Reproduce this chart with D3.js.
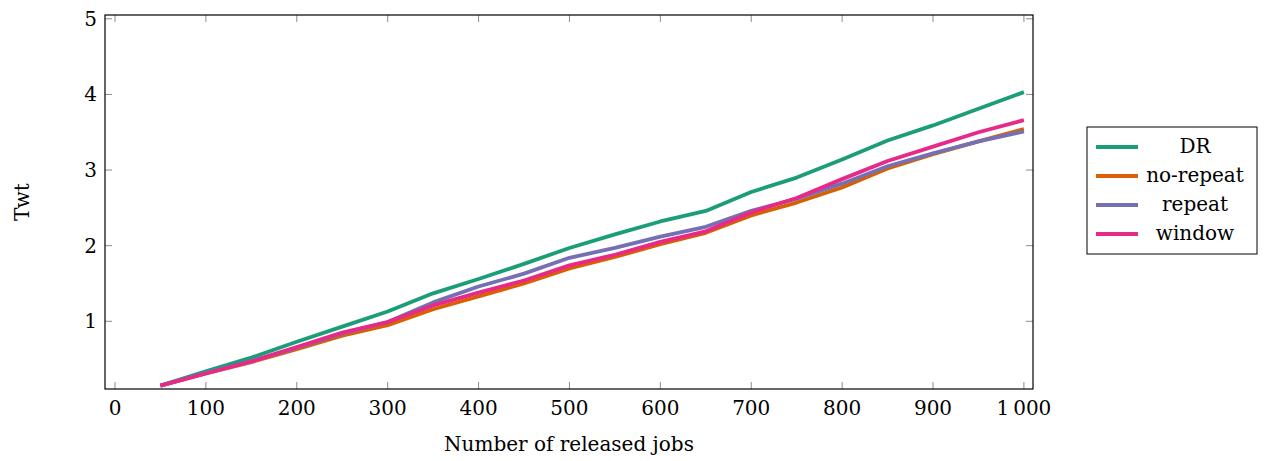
<!DOCTYPE html>
<html>
<head>
<meta charset="utf-8">
<script src="https://cdn.jsdelivr.net/npm/d3@7"></script>
<style>
  html, body { margin: 0; padding: 0; background: #fff; }
  svg text { font-family: "DejaVu Serif", "Liberation Serif", serif; fill: #000; }
</style>
</head>
<body>
<svg id="chart" width="1266" height="461"></svg>
<script>
// Number of released jobs
const jobs = [50, 100, 150, 200, 250, 300, 350, 400, 450, 500,
              550, 600, 650, 700, 750, 800, 850, 900, 950, 1000];

// Twt per strategy
const seriesNames = ["DR", "no-repeat", "repeat", "window"];
const drValues       = [0.15, 0.34, 0.52, 0.73, 0.93, 1.13, 1.37, 1.56, 1.76, 1.97, 2.15, 2.32, 2.46, 2.71, 2.90, 3.14, 3.39, 3.59, 3.81, 4.03];
const noRepeatValues = [0.15, 0.31, 0.46, 0.63, 0.81, 0.95, 1.16, 1.33, 1.50, 1.70, 1.85, 2.02, 2.17, 2.40, 2.57, 2.77, 3.02, 3.21, 3.38, 3.54];
const repeatValues   = [0.15, 0.32, 0.47, 0.65, 0.84, 0.99, 1.25, 1.46, 1.63, 1.84, 1.97, 2.12, 2.25, 2.46, 2.62, 2.82, 3.05, 3.22, 3.38, 3.51];
const windowValues   = [0.15, 0.31, 0.47, 0.66, 0.85, 0.99, 1.21, 1.38, 1.54, 1.74, 1.88, 2.05, 2.19, 2.44, 2.63, 2.88, 3.12, 3.31, 3.50, 3.66];
const seriesColors = ["#1b9e77", "#d95f02", "#7570b3", "#e7298a"];

const xTicks = [0, 100, 200, 300, 400, 500, 600, 700, 800, 900, 1000];
const xTickLabels = ["0", "100", "200", "300", "400", "500", "600", "700", "800", "900", "1\u2009000"];
const yTicks = [1, 2, 3, 4, 5];

const series = seriesNames.map((name, i) => ({
  name,
  color: seriesColors[i],
  values: [drValues, noRepeatValues, repeatValues, windowValues][i]
}));

const svg = d3.select("#chart");
const plot = { left: 105, top: 15, right: 1033, bottom: 389 };

const x = d3.scaleLinear().domain([-11, 1010]).range([plot.left, plot.right]);
const y = d3.scaleLinear().domain([0.105, 5.05]).range([plot.bottom, plot.top]);

const tickLen = 7;
const tickColor = "#8c8c8c";
const fontSize = 20;

// Tick marks on all four sides, pointing inward
const ticks = svg.append("g");
xTicks.forEach(t => {
  ticks.append("line").attr("x1", x(t)).attr("x2", x(t))
    .attr("y1", plot.bottom).attr("y2", plot.bottom - tickLen)
    .attr("stroke", tickColor).attr("stroke-width", 1);
  ticks.append("line").attr("x1", x(t)).attr("x2", x(t))
    .attr("y1", plot.top).attr("y2", plot.top + tickLen)
    .attr("stroke", tickColor).attr("stroke-width", 1);
});
yTicks.forEach(t => {
  ticks.append("line").attr("x1", plot.left).attr("x2", plot.left + tickLen)
    .attr("y1", y(t)).attr("y2", y(t))
    .attr("stroke", tickColor).attr("stroke-width", 1);
  ticks.append("line").attr("x1", plot.right).attr("x2", plot.right - tickLen)
    .attr("y1", y(t)).attr("y2", y(t))
    .attr("stroke", tickColor).attr("stroke-width", 1);
});

// Tick labels
svg.append("g").selectAll("text").data(xTicks).join("text")
  .attr("x", d => x(d)).attr("y", plot.bottom + 26)
  .attr("text-anchor", "middle").attr("font-size", fontSize)
  .text((d, i) => xTickLabels[i]);

svg.append("g").selectAll("text").data(yTicks).join("text")
  .attr("x", plot.left - 8).attr("y", d => y(d) + 7)
  .attr("text-anchor", "end").attr("font-size", fontSize)
  .text(d => d);

// Series lines
const line = d3.line()
  .x((d, i) => x(jobs[i]))
  .y(d => y(d));

svg.append("g").selectAll("path").data(series).join("path")
  .attr("d", d => line(d.values))
  .attr("fill", "none")
  .attr("stroke", d => d.color)
  .attr("stroke-width", 3.8)
  .attr("stroke-linejoin", "round");

// Frame
svg.append("rect")
  .attr("x", plot.left).attr("y", plot.top)
  .attr("width", plot.right - plot.left).attr("height", plot.bottom - plot.top)
  .attr("fill", "none").attr("stroke", "#000").attr("stroke-width", 1.2);

// Axis titles
svg.append("text")
  .attr("x", (plot.left + plot.right) / 2).attr("y", 451)
  .attr("text-anchor", "middle").attr("font-size", fontSize)
  .text("Number of released jobs");

svg.append("text")
  .attr("transform", `translate(29, ${(plot.top + plot.bottom) / 2}) rotate(-90)`)
  .attr("text-anchor", "middle").attr("font-size", fontSize)
  .text("Twt");

// Legend
const legend = svg.append("g");
const lg = { x: 1087, y: 127, w: 170, h: 127 };
legend.append("rect")
  .attr("x", lg.x).attr("y", lg.y).attr("width", lg.w).attr("height", lg.h)
  .attr("fill", "#fff").attr("stroke", "#000").attr("stroke-width", 1);
const rowY = d3.scalePoint().domain(seriesNames).range([147, 234]);
series.forEach(s => {
  legend.append("line")
    .attr("x1", 1096).attr("x2", 1138)
    .attr("y1", rowY(s.name)).attr("y2", rowY(s.name))
    .attr("stroke", s.color).attr("stroke-width", 3.8);
  legend.append("text")
    .attr("x", 1195).attr("y", rowY(s.name) + 6)
    .attr("text-anchor", "middle").attr("font-size", fontSize)
    .text(s.name);
});
</script>
</body>
</html>
